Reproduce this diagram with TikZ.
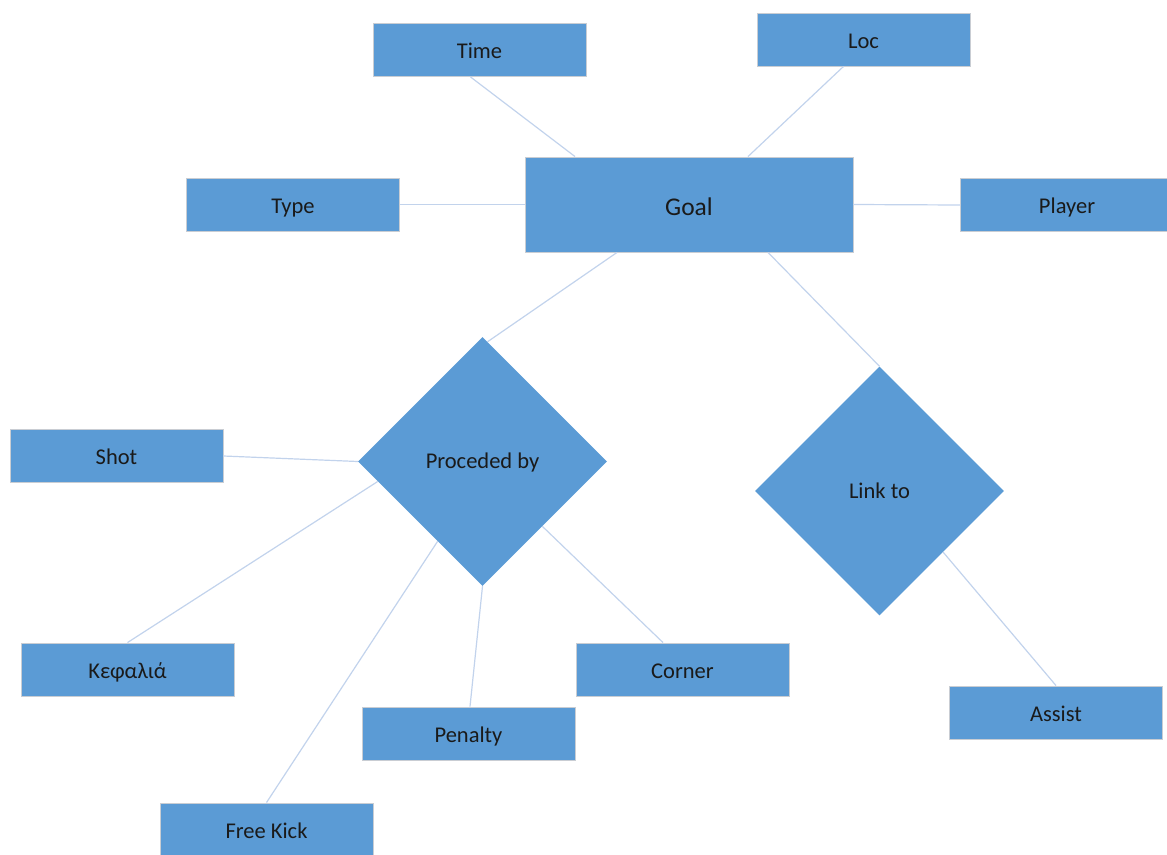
\documentclass[tikz,border=0pt]{standalone}
\usepackage{fontspec}
\setmainfont{Carlito}
\usetikzlibrary{shapes.geometric,calc}
\definecolor{boxblue}{HTML}{5B9BD5}
\definecolor{linkblue}{HTML}{C2D3EC}
\definecolor{boxedge}{HTML}{C9CDD3}
\definecolor{labelink}{HTML}{1A1A1A}
\begin{document}
\begin{tikzpicture}[x=1pt,y=-1pt,
  entity/.style={rectangle, fill=boxblue, draw=boxedge, line width=0.9pt,
    minimum width=213pt, minimum height=53pt, inner sep=0pt,
    text height=17.5pt, text depth=0pt,
    text=labelink, font=\fontsize{22.5}{27}\selectfont},
  relation/.style={diamond, aspect=1, fill=boxblue, draw=none,
    minimum width=249pt, minimum height=249pt, inner sep=0pt,
    text height=14.5pt, text depth=0pt,
    text=labelink, font=\fontsize{22.5}{27}\selectfont},
  link/.style={draw=linkblue, line width=1.2pt}]
\useasboundingbox (0,0) rectangle (1167,854);

% entities
\node[entity, minimum width=328pt, minimum height=95pt,
      text height=21.5pt, font=\fontsize{25.5}{30}\selectfont] (Goal) at (689,204.5) {Goal};
\node[entity] (Time)   at (479.5,50)   {Time};
\node[entity] (Loc)    at (863.5,39.5) {Loc};
\node[entity] (Type)   at (293,204.5)  {Type};
\node[entity] (Player) at (1067,205)   {Player};
\node[entity] (Shot)   at (116.5,456)  {Shot};
\node[entity] (Kef)    at (127.5,669.5){Κεφαλιά};
\node[entity] (Free)   at (266.5,829.5){Free Kick};
\node[entity] (Pen)    at (468.5,733.5){Penalty};
\node[entity] (Corner) at (682.5,669.5){Corner};
\node[entity] (Assist) at (1056,712.5) {Assist};

% relationships
\node[relation] (Proc) at (482.5,461.5) {Proceded by};
\node[relation] (Link) at (879.5,491)   {Link to};

% connectors
\draw[link] ([xshift=-9pt]Time.south) -- ([xshift=-114pt]Goal.north);
\draw[link] ([xshift=-20pt]Loc.south) -- ([xshift=59pt]Goal.north);
\draw[link] (Type.east) -- (Goal.west);
\draw[link] (Goal.east) -- (Player.west);
\draw[link] ([xshift=-72pt]Goal.south) -- ($(Proc.north)!0.04!(Proc.east)$);
\draw[link] ([xshift=79pt]Goal.south) -- (Link.north);
\draw[link] (Shot.east) -- (Proc.west);
\draw[link] (Kef.north) -- ($(Proc.west)!0.16!(Proc.south)$);
\draw[link] (Free.north) -- ($(Proc.west)!0.64!(Proc.south)$);
\draw[link] ([xshift=1.5pt]Pen.north) -- (Proc.south);
\draw[link] ([xshift=-19.5pt]Corner.north) -- ($(Proc.east)!0.52!(Proc.south)$);
\draw[link] ($(Link.east)!0.49!(Link.south)$) -- (Assist.north);
\end{tikzpicture}
\end{document}
